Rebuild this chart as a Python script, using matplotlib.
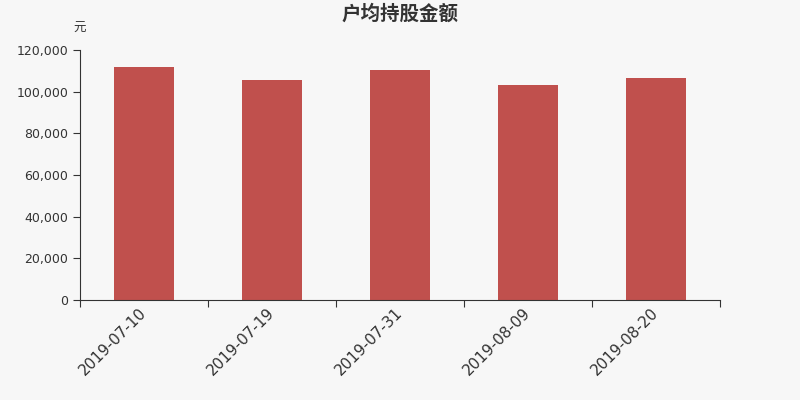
import matplotlib
matplotlib.use("Agg")
import matplotlib.pyplot as plt
import matplotlib.transforms as mtransforms
from matplotlib.ticker import FuncFormatter, FixedLocator

plt.rcParams['font.family'] = ['DejaVu Sans', 'Noto Sans CJK SC']

dates = ["2019-07-10", "2019-07-19", "2019-07-31", "2019-08-09", "2019-08-20"]
amounts = [112000, 105600, 110600, 103400, 106600]

BG = "#f7f7f7"
BAR = "#c0504d"
TXT = "#333333"

fig = plt.figure(figsize=(8, 4), dpi=100, facecolor=BG)
ax = fig.add_axes([0.1, 0.25, 0.8, 0.625], facecolor=BG)

x = list(range(len(dates)))
ax.bar(x, amounts, width=0.47, color=BAR, zorder=2)

ax.set_xlim(-0.5, len(dates) - 0.5)
ax.set_ylim(0, 120000)
ax.set_yticks(range(0, 120001, 20000))
ax.yaxis.set_major_formatter(FuncFormatter(lambda v, p: f"{int(v):,}"))

# ticks sit between categories, labels under bar centres
ax.xaxis.set_major_locator(FixedLocator([i - 0.5 for i in range(len(dates) + 1)]))
ax.xaxis.set_major_formatter(FuncFormatter(lambda v, p: ""))
ax.xaxis.set_minor_locator(FixedLocator(x))
ax.set_xticklabels(dates, minor=True, rotation=45, ha="right",
                   rotation_mode="anchor", fontsize=11, color=TXT)
ax.tick_params(axis="x", which="minor", length=0, pad=4)
ax.tick_params(axis="x", which="major", length=5, color=TXT)
ax.tick_params(axis="y", length=5, color=TXT, labelsize=9, labelcolor=TXT)

shift = mtransforms.ScaledTranslation(-5 / 100, 0, fig.dpi_scale_trans)
for lbl in ax.get_xticklabels(minor=True):
    lbl.set_transform(lbl.get_transform() + shift)

for s in ["top", "right"]:
    ax.spines[s].set_visible(False)
for s in ["left", "bottom"]:
    ax.spines[s].set_color(TXT)

fig.text(0.5, 0.965, "户均持股金额", ha="center", va="center", fontsize=14,
         fontweight="bold", color=TXT, family=["Noto Sans CJK SC", "DejaVu Sans"])
fig.text(0.099, 0.929, "元", ha="center", va="center", fontsize=9, color=TXT,
         family=["Noto Sans CJK SC", "DejaVu Sans"])

fig.savefig("out.png", dpi=100, facecolor=BG)
